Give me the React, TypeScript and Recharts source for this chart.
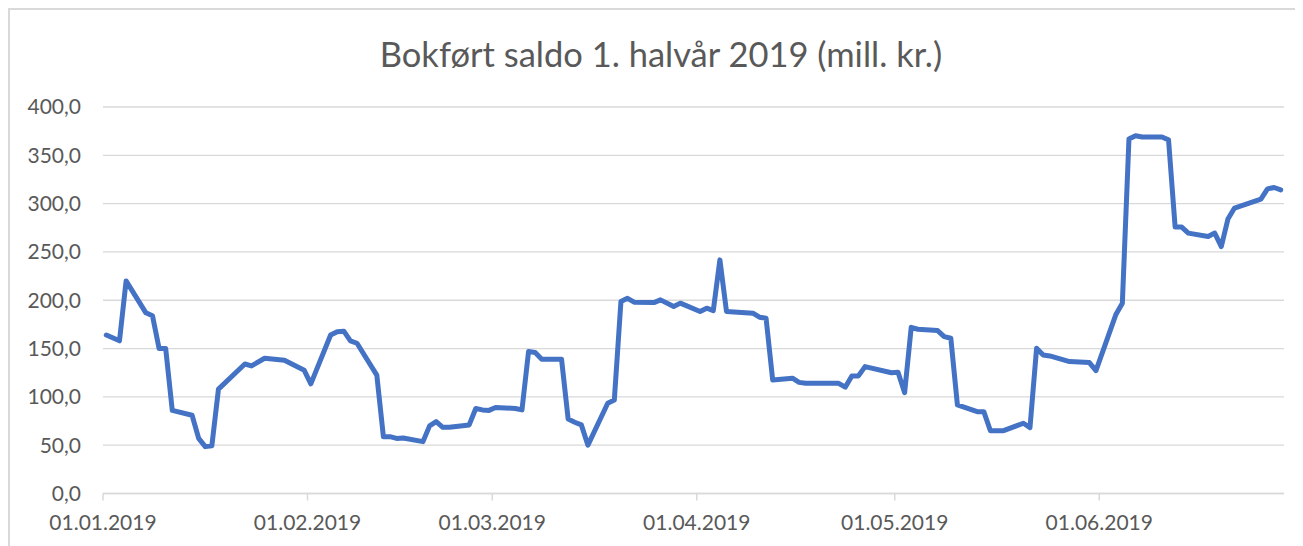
import { LineChart, Line, XAxis, YAxis, CartesianGrid } from 'recharts'

const dates = [
  '01.01.2019', '03.01.2019', '04.01.2019', '07.01.2019', '08.01.2019', '09.01.2019', '10.01.2019', '11.01.2019',
  '14.01.2019', '15.01.2019', '16.01.2019', '17.01.2019', '18.01.2019', '22.01.2019', '23.01.2019', '25.01.2019',
  '28.01.2019', '31.01.2019', '01.02.2019', '04.02.2019', '05.02.2019', '06.02.2019', '07.02.2019', '08.02.2019',
  '11.02.2019', '12.02.2019', '13.02.2019', '14.02.2019', '15.02.2019', '18.02.2019', '19.02.2019', '20.02.2019',
  '21.02.2019', '22.02.2019', '25.02.2019', '26.02.2019', '27.02.2019', '28.02.2019', '01.03.2019', '04.03.2019',
  '05.03.2019', '06.03.2019', '07.03.2019', '08.03.2019', '11.03.2019', '12.03.2019', '13.03.2019', '14.03.2019',
  '15.03.2019', '18.03.2019', '19.03.2019', '20.03.2019', '21.03.2019', '22.03.2019', '25.03.2019', '26.03.2019',
  '28.03.2019', '29.03.2019', '01.04.2019', '02.04.2019', '03.04.2019', '04.04.2019', '05.04.2019', '09.04.2019',
  '10.04.2019', '11.04.2019', '12.04.2019', '15.04.2019', '16.04.2019', '17.04.2019', '22.04.2019', '23.04.2019',
  '24.04.2019', '25.04.2019', '26.04.2019', '30.04.2019', '01.05.2019', '02.05.2019', '03.05.2019', '04.05.2019',
  '07.05.2019', '08.05.2019', '09.05.2019', '10.05.2019', '13.05.2019', '14.05.2019', '15.05.2019', '17.05.2019',
  '20.05.2019', '21.05.2019', '22.05.2019', '23.05.2019', '24.05.2019', '27.05.2019', '30.05.2019', '31.05.2019',
  '03.06.2019', '04.06.2019', '05.06.2019', '06.06.2019', '07.06.2019', '10.06.2019', '11.06.2019', '12.06.2019',
  '13.06.2019', '14.06.2019', '17.06.2019', '18.06.2019', '19.06.2019', '20.06.2019', '21.06.2019', '25.06.2019',
  '26.06.2019', '27.06.2019', '28.06.2019',
]

const saldo = [
  164, 158, 220, 187, 184, 150, 150, 86,
  81, 57, 48.5, 49.5, 108, 134, 132, 140,
  138, 127.5, 113.5, 164, 167.5, 168, 158, 155.5,
  122.5, 58.8, 58.8, 57, 57.5, 53.7, 70, 74.4,
  68.5, 68.5, 71, 88, 86.5, 86, 89, 88,
  86.5, 147, 146, 139, 139, 77, 73.7, 71,
  50, 93.4, 96.8, 198.6, 202, 198, 197.6, 200.4,
  193.5, 197, 188.3, 191.8, 189.3, 241.8, 188.3, 186.6,
  182.5, 181.4, 117.5, 119.3, 115, 114, 114, 110,
  121.7, 121.7, 131.3, 125, 125.5, 104.4, 172, 170,
  168.6, 162.4, 160.7, 91.7, 84.7, 84.7, 65, 65,
  72.7, 68.2, 150.4, 143.4, 142.4, 136.5, 135.5, 127.2,
  184.9, 197, 366.8, 370.2, 368.9, 368.9, 366, 275.7,
  275.7, 269.5, 266, 269.5, 255.6, 284, 295.4, 304.7,
  315.3, 316.7, 314.3,
]

const xTickLabels = ['01.01.2019', '01.02.2019', '01.03.2019', '01.04.2019', '01.05.2019', '01.06.2019']
const yTicks = [0, 50, 100, 150, 200, 250, 300, 350, 400]

const dayOf = (s: string) => {
  const [d, m, y] = s.split('.').map(Number)
  return (Date.UTC(y, m - 1, d) - Date.UTC(2019, 0, 1)) / 86400000
}

// excel date axis puts each point in the middle of its day
const data = dates.map((d, i) => ({ x: dayOf(d) + 0.5, saldo: saldo[i] }))
const xTicks = xTickLabels.map(dayOf)

const grey = '#595959'
const font = 'Lato, "Open Sans", sans-serif'

export default function App() {
  return (
    <div style={{ position: 'relative', width: 1295, height: 538, overflow: 'hidden', fontFamily: font }}>
      <div style={{ position: 'absolute', left: 0, top: 0, width: 1310, height: 560, border: '2px solid #d9d9d9', boxSizing: 'border-box' }} />
      <div style={{ position: 'absolute', left: 0, top: 29, width: 1306, textAlign: 'center', fontSize: 34.5, lineHeight: '34.5px', color: grey }}>
        Bokført saldo 1. halvår 2019 (mill. kr.)
      </div>
      <div style={{ position: 'absolute', left: 0, top: 0 }}>
        <LineChart width={1295} height={538} data={data} margin={{ top: 99, right: 19, left: 0, bottom: 12 }}>
          <CartesianGrid vertical={false} stroke="#d9d9d9" strokeWidth={1.3} />
          <XAxis
            dataKey="x"
            type="number"
            domain={[0, 179]}
            ticks={xTicks}
            interval={0}
            height={40.5}
            tickFormatter={(v: number) => xTickLabels[xTicks.indexOf(v)] ?? ''}
            stroke="#d9d9d9"
            strokeWidth={1.5}
            tickSize={7}
            tickMargin={15}
            tick={{ fill: grey, fontSize: 21, fontFamily: font }}
          />
          <YAxis
            domain={[0, 400]}
            ticks={yTicks}
            width={95}
            axisLine={false}
            tickLine={false}
            tickSize={0}
            tickMargin={22}
            tickFormatter={(v: number) => v.toFixed(1).replace('.', ',')}
            tick={{ fill: grey, fontSize: 21, fontFamily: font }}
          />
          <Line
            type="linear"
            dataKey="saldo"
            stroke="#4472c4"
            strokeWidth={5}
            strokeLinejoin="round"
            strokeLinecap="round"
            dot={false}
            isAnimationActive={false}
          />
        </LineChart>
      </div>
    </div>
  )
}
